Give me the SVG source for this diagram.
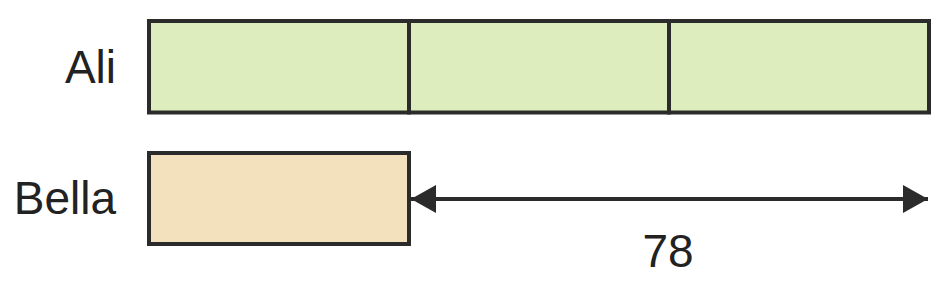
<svg xmlns="http://www.w3.org/2000/svg" width="950" height="285" viewBox="0 0 950 285">
<style>
.box{stroke:#2b2b2b;stroke-width:4}
.g{fill:#ddedbd}
.b{fill:#f3e0bc}
.lbl{font-family:"Liberation Sans",Arial,sans-serif;font-size:46px;fill:#222}
.conn{stroke:#2b2b2b;stroke-width:4;fill:none}
</style>
<defs>
<marker id="ah" viewBox="0 0 25 28" refX="25" refY="14" markerWidth="25" markerHeight="28" markerUnits="userSpaceOnUse" orient="auto-start-reverse">
<path d="M0,0 L25,14 L0,28 Z" fill="#2b2b2b"/>
</marker>
</defs>
<g id="ali">
<rect class="box g" x="149" y="21" width="260" height="91.5"/>
<rect class="box g" x="409" y="21" width="260" height="91.5"/>
<rect class="box g" x="669" y="21" width="260" height="91.5"/>
<text class="lbl" x="116" y="83" text-anchor="end">Ali</text>
</g>
<g id="bella">
<rect class="box b" x="149" y="153" width="260" height="91"/>
<text class="lbl" x="116" y="214" text-anchor="end">Bella</text>
</g>
<g id="connectors">
<line class="conn" x1="411" y1="199" x2="928" y2="199" marker-start="url(#ah)" marker-end="url(#ah)"/>
<text class="lbl" x="668" y="267" text-anchor="middle">78</text>
</g>
</svg>
